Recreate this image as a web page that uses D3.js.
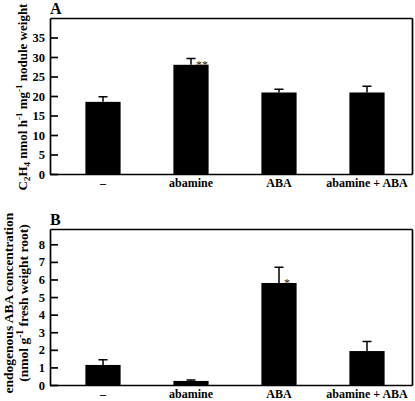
<!DOCTYPE html>
<html><head><meta charset="utf-8">
<script src="https://cdn.jsdelivr.net/npm/d3@7"></script>
<style>
body{margin:0;background:#fff;}
text{font-family:"Liberation Serif","Times New Roman",serif;font-weight:bold;fill:#000;}
</style></head>
<body><svg id="c" width="415" height="401"></svg>
<script>
const categories = ["–", "abamine", "ABA", "abamine + ABA"];
const valuesA = [18.5, 28.0, 20.9, 20.9];
const errorsA = [1.3, 1.6, 0.8, 1.6];
const signifA = ["", "**", "", ""];
const ticksA = [0, 5, 10, 15, 20, 25, 30, 35];
const valuesB = [1.14, 0.23, 5.8, 1.93];
const errorsB = [0.3, 0.06, 0.9, 0.55];
const signifB = ["", "", "*", ""];
const ticksB = [0, 1, 2, 3, 4, 5, 6, 7, 8];

const svg = d3.select("#c");

function panel(opts) {
  const g = svg.append("g");
  const x = d3.scaleBand().domain(categories).range([59, 411]).paddingInner(0.6).paddingOuter(0.3);
  const xf = d3.scaleLinear().domain([0, 1]).range([50, 412]);
  const y = d3.scaleLinear().domain([0, opts.max]).range([opts.bottom, opts.top]);
  // bars
  g.selectAll("rect.bar").data(opts.values).enter().append("rect").attr("class", "bar")
    .attr("x", (d, i) => x(categories[i])).attr("y", d => y(d))
    .attr("width", x.bandwidth()).attr("height", d => opts.bottom - y(d))
    .attr("fill", "#000");
  // error bars
  opts.values.forEach((v, i) => {
    const cx = x(categories[i]) + x.bandwidth() / 2;
    const yt = y(v + opts.errors[i]);
    g.append("path").attr("d", `M${cx},${y(v)}V${yt}M${cx - 4.5},${yt}H${cx + 4.5}`)
      .attr("fill", "none").attr("stroke", "#000").attr("stroke-width", 1.5);
    if (opts.sig[i]) {
      g.append("text").attr("x", cx + 5).attr("y", y(v) + 4).style("font-size", "12px")
        .style("font-weight", "normal").style("fill", "#222").text(opts.sig[i]);
    }
  });
  // frame via axes
  const left = g.append("g").attr("transform", "translate(50,0)")
    .call(d3.axisLeft(y).tickValues(opts.ticks).tickSize(-8).tickSizeOuter(0).tickPadding(4).tickFormat(d3.format("d")));
  left.selectAll("text").style("font-size", "12.5px").attr("x", -5);
  const right = g.append("g").attr("transform", "translate(412,0)")
    .call(d3.axisRight(y).tickValues([]).tickSizeOuter(0));
  const top = g.append("g").attr("transform", `translate(0,${opts.top})`)
    .call(d3.axisTop(xf).tickValues([]).tickSizeOuter(0));
  const bottom = g.append("g").attr("transform", `translate(0,${opts.bottom})`)
    .call(d3.axisBottom(xf).tickValues([]).tickSizeOuter(0));
  [left, right, top, bottom].forEach(a => {
    a.selectAll("path, line").attr("stroke", "#000").attr("stroke-width", 1.7);
  });
  // category labels
  g.selectAll("text.cat").data(categories).enter().append("text").attr("class", "cat")
    .attr("x", d => x(d) + x.bandwidth() / 2).attr("y", opts.bottom + 13)
    .attr("text-anchor", "middle").style("font-size", "12px").text(d => d);
  // panel letter
  g.append("text").attr("x", 50).attr("y", opts.top - 4).style("font-size", "16px").text(opts.letter);
  return g;
}

panel({values: valuesA, errors: errorsA, sig: signifA, ticks: ticksA, max: 40, top: 18, bottom: 174, letter: "A"});
panel({values: valuesB, errors: errorsB, sig: signifB, ticks: ticksB, max: 8.87, top: 229, bottom: 385, letter: "B"});

// y label A
const la = svg.append("text").attr("transform", "translate(27,97) rotate(-90)").attr("text-anchor", "middle").style("font-size", "13px");
la.append("tspan").text("C");
la.append("tspan").attr("dy", 3).style("font-size", "9px").text("2");
la.append("tspan").attr("dy", -3).text("H");
la.append("tspan").attr("dy", 3).style("font-size", "9px").text("4");
la.append("tspan").attr("dy", -3).text(" nmol h");
la.append("tspan").attr("dy", -5).style("font-size", "9px").text("-1");
la.append("tspan").attr("dy", 5).text(" mg");
la.append("tspan").attr("dy", -5).style("font-size", "9px").text("-1");
la.append("tspan").attr("dy", 5).text(" nodule weight");

// y label B
svg.append("text").attr("transform", "translate(13,303) rotate(-90)").attr("text-anchor", "middle").style("font-size", "13.5px")
  .text("endogenous ABA concentration");
const lb = svg.append("text").attr("transform", "translate(28,303) rotate(-90)").attr("text-anchor", "middle").style("font-size", "13.5px");
lb.append("tspan").text("(nmol g");
lb.append("tspan").attr("dy", -5).style("font-size", "9.5px").text("-1");
lb.append("tspan").attr("dy", 5).text(" fresh weight root)");
</script></body></html>
